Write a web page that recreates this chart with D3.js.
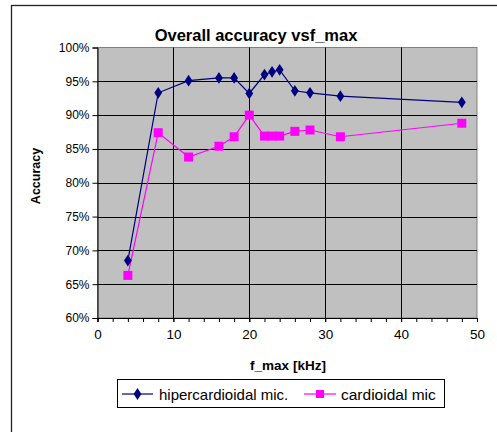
<!DOCTYPE html>
<html><head><meta charset="utf-8">
<script src="https://cdn.jsdelivr.net/npm/d3@7"></script>
<style>body{margin:0;background:#fff}svg{display:block;font-family:"Liberation Sans",Arial,sans-serif}</style>
</head><body>
<script>
const fmax = [4, 8, 12, 16, 18, 20, 22, 23, 24, 26, 28, 32, 48];
const hiper = [68.5, 93.3, 95.1, 95.5, 95.5, 93.2, 96.0, 96.4, 96.7, 93.6, 93.3, 92.8, 91.9];
const cardio = [66.3, 87.4, 83.8, 85.4, 86.8, 90.0, 86.9, 86.9, 86.9, 87.6, 87.8, 86.8, 88.8];
const seriesNames = ["hipercardioidal mic.", "cardioidal mic"];
const xTicks = [0, 10, 20, 30, 40, 50];
const yTicks = [60, 65, 70, 75, 80, 85, 90, 95, 100];

const W = 497, H = 432;
const svg = d3.select("body").append("svg").attr("width", W).attr("height", H);
svg.append("rect").attr("x", 11.5).attr("y", 5.5).attr("width", 500).attr("height", 440)
  .attr("fill", "#fff").attr("stroke", "#222").attr("stroke-width", 1.3);

const L = 97.5, R = 477, T = 47.5, B = 318;
const x = d3.scaleLinear().domain([0, 50]).range([L, R]);
const y = d3.scaleLinear().domain([60, 100]).range([B, T]);

svg.append("rect").attr("x", L).attr("y", T).attr("width", R - L).attr("height", B - T)
  .attr("fill", "#c0c0c0").attr("stroke", "#808080").attr("stroke-width", 1);

const g = svg.append("g");
g.selectAll(".hg").data(yTicks.slice(1, -1)).join("line")
  .attr("x1", L).attr("x2", R).attr("y1", d => Math.round(y(d)) + 0.5).attr("y2", d => Math.round(y(d)) + 0.5)
  .attr("stroke", "#000").attr("stroke-width", 1);
g.selectAll(".vg").data(xTicks.slice(1, -1)).join("line")
  .attr("y1", T).attr("y2", B).attr("x1", d => Math.round(x(d)) + 0.5).attr("x2", d => Math.round(x(d)) + 0.5)
  .attr("stroke", "#000").attr("stroke-width", 1);

// axes
const xAxis = d3.axisBottom(x).tickValues(xTicks).tickSize(4).tickPadding(7).tickFormat(d3.format("d"));
const xa = svg.append("g").attr("transform", `translate(0,${B})`).call(xAxis);
xa.select(".domain").attr("stroke", "#000");
xa.selectAll("text").attr("font-size", 13.5).attr("fill", "#000");
const xMinor = d3.axisBottom(x).tickValues(d3.range(0, 51, 2)).tickSize(4).tickFormat("");
const xm = svg.append("g").attr("transform", `translate(0,${B})`).call(xMinor);
xm.select(".domain").remove();

const yAxis = d3.axisLeft(y).tickValues(yTicks).tickSize(5).tickPadding(3).tickFormat(d => d + "%");
const ya = svg.append("g").attr("transform", `translate(${L},0)`).call(yAxis);
ya.select(".domain").attr("stroke", "#000");
ya.selectAll("text").attr("font-size", 12).attr("fill", "#000");

// lines
const line = d3.line().x((d, i) => x(fmax[i])).y(d => y(d));
svg.append("path").datum(hiper).attr("d", line).attr("fill", "none").attr("stroke", "#000080").attr("stroke-width", 1.2);
svg.append("path").datum(cardio).attr("d", line).attr("fill", "none").attr("stroke", "#ff00ff").attr("stroke-width", 1.2);

const diamond = d3.symbol().type(d3.symbolDiamond).size(40);
svg.selectAll(".dm").data(hiper).join("path")
  .attr("d", diamond).attr("transform", (d, i) => `translate(${x(fmax[i])},${y(d)}) scale(1.15,1)`)
  .attr("fill", "#000080");
svg.selectAll(".sq").data(cardio).join("rect")
  .attr("x", (d, i) => x(fmax[i]) - 4.5).attr("y", d => y(d) - 4.5).attr("width", 9).attr("height", 9)
  .attr("fill", "#ff00ff");

// titles
svg.append("text").attr("x", 256).attr("y", 40.5).attr("text-anchor", "middle")
  .attr("font-size", 16.5).attr("font-weight", "bold").text("Overall accuracy vsf_max");
svg.append("text").attr("x", 288).attr("y", 370).attr("text-anchor", "middle")
  .attr("font-size", 13.5).attr("font-weight", "bold").text("f_max [kHz]");
svg.append("text").attr("transform", "translate(40,176) rotate(-90)").attr("text-anchor", "middle")
  .attr("font-size", 12.5).attr("font-weight", "bold").text("Accuracy");

// legend
const lg = svg.append("g");
lg.append("rect").attr("x", 117.5).attr("y", 379.5).attr("width", 327).attr("height", 28)
  .attr("fill", "#fff").attr("stroke", "#000").attr("stroke-width", 1);
const ly = 394;
lg.append("line").attr("x1", 122).attr("x2", 153).attr("y1", ly).attr("y2", ly).attr("stroke", "#000080").attr("stroke-width", 1.2);
lg.append("path").attr("d", diamond).attr("transform", `translate(137.5,${ly}) scale(1.15,1)`).attr("fill", "#000080");
lg.append("text").attr("x", 159).attr("y", ly + 5.5).attr("font-size", 15).text(seriesNames[0]);
lg.append("line").attr("x1", 304).attr("x2", 336).attr("y1", ly).attr("y2", ly).attr("stroke", "#ff00ff").attr("stroke-width", 1.2);
lg.append("rect").attr("x", 316).attr("y", ly - 4).attr("width", 8).attr("height", 8).attr("fill", "#ff00ff");
lg.append("text").attr("x", 341).attr("y", ly + 5.5).attr("font-size", 15.5).text(seriesNames[1]);
</script>
</body></html>
